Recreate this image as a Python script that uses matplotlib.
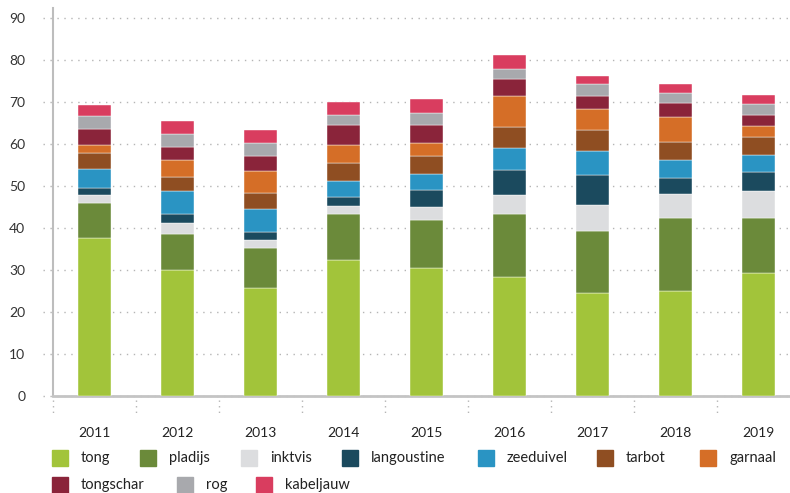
import numpy as np
import matplotlib
matplotlib.use('Agg')
import matplotlib.pyplot as plt
from matplotlib.patches import Rectangle
import matplotlib.transforms as mtransforms

plt.rcParams['font.family'] = ['Lato', 'DejaVu Sans']

years = ['2011', '2012', '2013', '2014', '2015', '2016', '2017', '2018', '2019']
species = ['tong', 'pladijs', 'inktvis', 'langoustine', 'zeeduivel',
           'tarbot', 'garnaal', 'tongschar', 'rog', 'kabeljauw']

tong        = [37.7, 30.1, 25.7, 32.5, 30.5, 28.3, 24.5, 24.9, 29.4]
pladijs     = [8.3, 8.5, 9.5, 10.8, 11.5, 15.1, 14.7, 17.5, 13.1]
inktvis     = [1.9, 2.7, 1.9, 2.0, 3.1, 4.5, 6.3, 5.7, 6.4]
langoustine = [1.7, 2.0, 1.9, 2.2, 3.9, 6.0, 7.1, 3.9, 4.4]
zeeduivel   = [4.4, 5.5, 5.5, 3.8, 3.9, 5.1, 5.7, 4.2, 4.2]
tarbot      = [3.8, 3.3, 3.8, 4.3, 4.3, 5.0, 5.0, 4.4, 4.1]
garnaal     = [2.0, 4.2, 5.2, 4.2, 3.0, 7.4, 5.0, 5.9, 2.7]
tongschar   = [3.7, 3.1, 3.6, 4.7, 4.4, 4.0, 3.2, 3.2, 2.6]
rog         = [3.2, 3.1, 3.1, 2.4, 2.9, 2.5, 2.7, 2.4, 2.7]
kabeljauw   = [2.5, 3.1, 3.1, 3.2, 3.3, 3.4, 2.1, 2.2, 2.1]

series = [tong, pladijs, inktvis, langoustine, zeeduivel,
          tarbot, garnaal, tongschar, rog, kabeljauw]
colors = ['#a2c43a', '#6b8a3a', '#dcdddf', '#1b4a5e', '#2a94c3',
          '#8f4e22', '#d56e27', '#8a243a', '#a8a9ad', '#d93d5f']

W, H = 790, 493
fig = plt.figure(figsize=(W / 100, H / 100), dpi=100)
ax = fig.add_axes([53 / W, (H - 396) / H, (W - 53) / W, (396 - 8) / H])

x = np.arange(len(years))
bottom = np.zeros(len(years))
for vals, col, name in zip(series, colors, species):
    ax.bar(x, vals, width=0.4, bottom=bottom, color=col, label=name,
           edgecolor='white', linewidth=0.3, zorder=3)
    bottom += np.array(vals)

ax.set_xlim(-0.5, -0.5 + (W - 53) / 83)
ax.set_ylim(0, 92.4)

yt = np.arange(0, 91, 10)
ax.set_yticks(yt)
ax.set_yticklabels([str(v) for v in yt], fontsize=10, color='#333333')
ax.tick_params(axis='y', length=0, pad=20)

# dotted grid, running a bit left of the axis
blend = mtransforms.blended_transform_factory(ax.transAxes, ax.transData)
for v in yt:
    ax.plot([-10 / (W - 53), 1], [v, v], transform=blend, clip_on=False,
            ls=(0, (1, 4)), color='#b5b5b5', lw=1, zorder=1)

ax.set_xticks(x)
ax.set_xticklabels(years, fontsize=10, color='#222222')
ax.tick_params(axis='x', length=0, pad=22)

# dotted category separators below axis
blend_x = mtransforms.blended_transform_factory(ax.transData, ax.transAxes)
for b in np.arange(-0.5, len(years), 1.0):
    ax.plot([b, b], [-4 / 388, -18 / 388], transform=blend_x, clip_on=False,
            ls=(0, (1, 3)), color='#b5b5b5', lw=1)

for s in ['top', 'right']:
    ax.spines[s].set_visible(False)
ax.spines['left'].set_color('#bdbdbd')
ax.spines['left'].set_linewidth(1.5)
ax.spines['bottom'].set_color('#c4c4c4')
ax.spines['bottom'].set_linewidth(2)

# legend laid out as in the source (flowing rows)
legend_pos = [(52, 458), (140, 458), (241, 458), (342, 458), (478, 458),
              (597, 458), (700, 458), (52, 485), (177, 485), (256, 485)]
for name, col, (px, py) in zip(species, colors, legend_pos):
    fig.add_artist(Rectangle((px / W, 1 - (py + 8) / H), 16 / W, 16 / H,
                             transform=fig.transFigure, color=col))
    fig.text((px + 29) / W, 1 - py / H, name, fontsize=10.5,
             va='center', ha='left', color='#222222')

fig.savefig('out.png', dpi=100)
